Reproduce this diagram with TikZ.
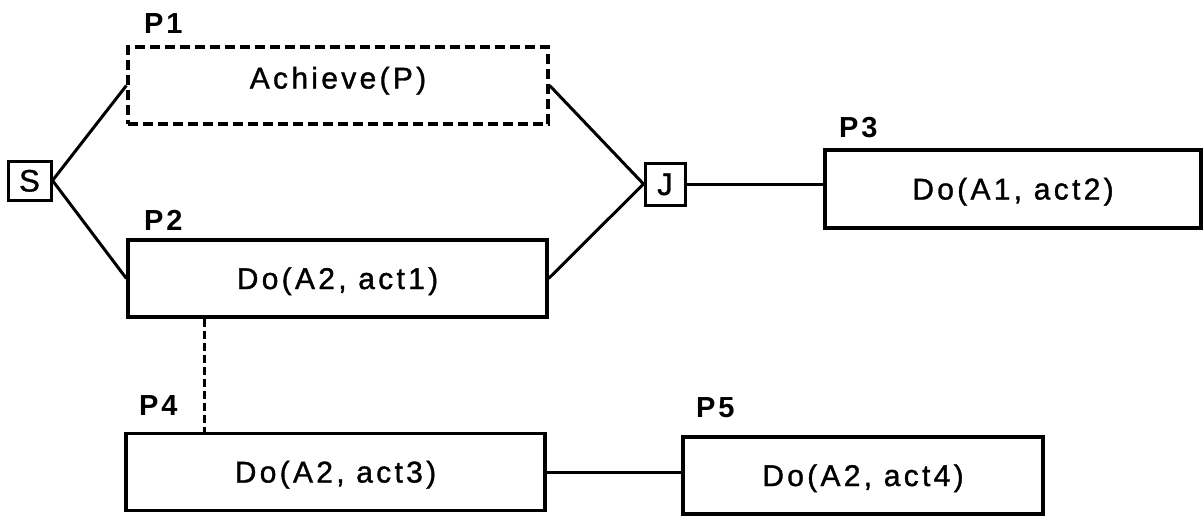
\documentclass[tikz,border=0pt]{standalone}
\usepackage{fontspec}
\setmainfont{Liberation Sans}
\newfontfamily\boxfont[LetterSpace=11,FakeBold=1.2]{Liberation Sans}
\newfontfamily\sjfont[FakeBold=1.2]{Liberation Sans}
\newfontfamily\labfont[LetterSpace=10]{Liberation Sans Bold}
\begin{document}
\begin{tikzpicture}[x=1pt,y=-1pt,
  procbox/.style={draw, line width=3.2pt, inner sep=0pt, font=\boxfont\fontsize{30}{30}\selectfont, text height=21pt, text depth=0pt},
  dashbox/.style={procbox, dash pattern=on 10pt off 5pt},
  smallbox/.style={draw, line width=3pt, inner sep=0pt, font=\sjfont\fontsize{31}{31}\selectfont, text height=22pt, text depth=0pt},
  plabel/.style={anchor=base west, inner sep=0pt, font=\labfont\fontsize{29}{29}\selectfont},
  conn/.style={line width=3pt},
  dashconn/.style={line width=3pt, dash pattern=on 8pt off 4pt}]
\useasboundingbox (0,0) rectangle (1204,517);
\fill[white] (0,0) rectangle (1204,517);
% boxes
\node[smallbox, minimum width=43pt, minimum height=39pt] (s) at (29.5,180.5) {S};
\node[smallbox, minimum width=40pt, minimum height=42pt] (j) at (665,184) {J};
\node[dashbox, minimum width=420pt, minimum height=77pt, text depth=15pt] (p1) at (338,85.5) {Achieve(P)};
\node[procbox, minimum width=419pt, minimum height=77pt] (p2) at (337.5,278.5) {Do(A2, act1)};
\node[procbox, minimum width=376pt, minimum height=78pt] (p3) at (1013,189) {Do(A1, act2)};
\node[procbox, minimum width=419pt, minimum height=77pt] (p4) at (335.5,472) {Do(A2, act3)};
\node[procbox, minimum width=360pt, minimum height=77pt] (p5) at (863,475.5) {Do(A2, act4)};
% labels
\node[plabel] (l1) at (144,33) {P1};
\node[plabel] (l2) at (144,230) {P2};
\node[plabel] (l3) at (839,137) {P3};
\node[plabel] (l4) at (139,415) {P4};
\node[plabel] (l5) at (696,417) {P5};
% connectors
\draw[conn] (s.east) -- (p1.west);
\draw[conn] (s.east) -- (p2.west);
\draw[conn] (p1.east) -- (j.west);
\draw[conn] (p2.east) -- (j.west);
\draw[conn] (j.east) -- (j.east -| p3.west);
\draw[conn] (p4.east) -- (p4.east -| p5.west);
\path (p2.south west) ++(78,0) coordinate (d1);
\draw[dashconn] (d1) -- (d1 |- p4.north);
\end{tikzpicture}
\end{document}
